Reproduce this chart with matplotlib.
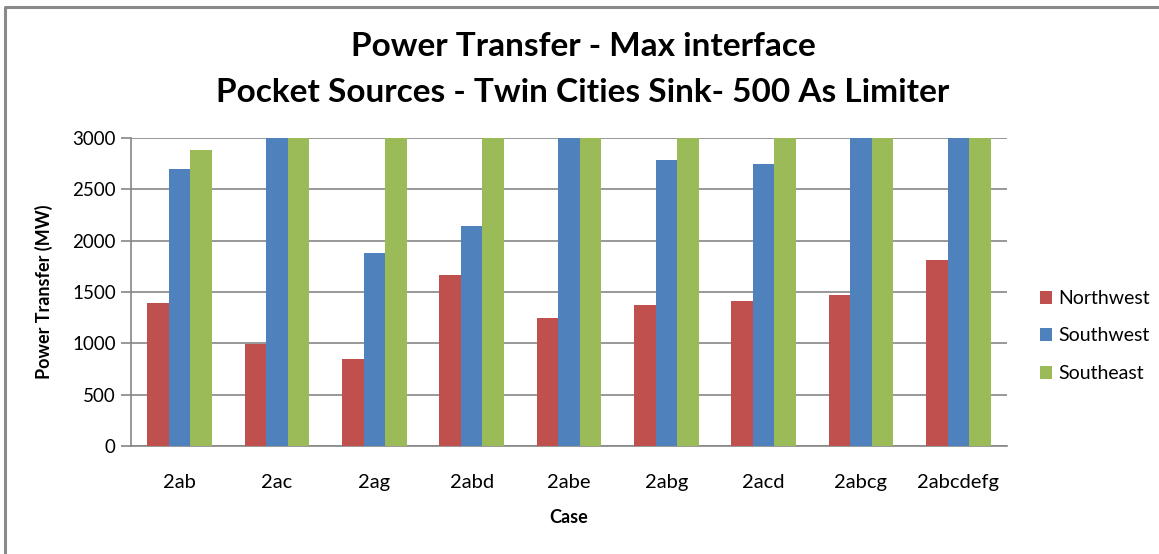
import numpy as np
import matplotlib.pyplot as plt
from matplotlib.lines import Line2D

# Datos
casos = ['2ab', '2ac', '2ag', '2abd', '2abe', '2abg', '2acd', '2abcg', '2abcdefg']
northwest = [1395, 995, 850, 1665, 1250, 1370, 1415, 1475, 1815]
southwest = [2700, 3000, 1880, 2145, 3000, 2790, 2745, 3000, 3000]
southeast = [2885, 3000, 3000, 3000, 3000, 3000, 3000, 3000, 3000]

series = ['Northwest', 'Southwest', 'Southeast']
colores = ['#C0504D', '#4F81BD', '#9BBB59']

plt.rcParams['font.family'] = ['Lato', 'DejaVu Sans']

W, H = 1159, 554
fig = plt.figure(figsize=(W / 100, H / 100), dpi=100)

# borde del área del gráfico (solo arriba e izquierda, el resto queda fuera de la imagen)
y_borde = 1 - 7 / H
x_borde = 4.5 / W
fig.add_artist(Line2D([x_borde, x_borde, 1.05], [-0.05, y_borde, y_borde], transform=fig.transFigure,
                      color='#8a8a8a', linewidth=2.2))

ax = fig.add_axes([131 / W, (H - 446) / H, (1007 - 131) / W, (446 - 138) / H])

x = np.arange(len(casos))
ancho = 1 / 4.5
for i, (nombre, valores) in enumerate(zip(series, [northwest, southwest, southeast])):
    ax.bar(x + (i - 1) * ancho, valores, width=ancho, color=colores[i], label=nombre,
           edgecolor='none', zorder=3)

ax.set_xlim(-0.5, len(casos) - 0.5)
ax.set_ylim(0, 3000)
ax.set_yticks(range(0, 3001, 500))
ax.set_xticks(x)
ax.set_xticklabels(casos)
ax.grid(axis='y', color='#868686', linewidth=1.2, zorder=0)

for lado in ['top', 'right']:
    ax.spines[lado].set_visible(False)
ax.spines['left'].set_color('#868686')
ax.spines['bottom'].set_color('#868686')
ax.spines['left'].set_linewidth(1.2)
ax.spines['bottom'].set_linewidth(1.2)
ax.tick_params(axis='y', length=7, color='#868686', width=1.2, labelsize=13.5, pad=4)
ax.tick_params(axis='x', length=0, labelsize=14.5, pad=20)

ax.set_ylabel('Power Transfer (MW)', fontsize=13, fontweight='bold', labelpad=14)
ax.set_xlabel('Case', fontsize=13, fontweight='bold', labelpad=13)

fig.text(583 / W, 1 - 47 / H, 'Power Transfer - Max interface', ha='center', va='center',
         fontsize=24, fontweight='bold')
fig.text(583 / W, 1 - 92 / H, 'Pocket Sources - Twin Cities Sink- 500 As Limiter', ha='center',
         va='center', fontsize=24, fontweight='bold')

ax.legend(loc='center left', bbox_to_anchor=(1022 / W, 1 - 336 / H), bbox_transform=fig.transFigure,
          frameon=False, fontsize=14, handlelength=0.65, handleheight=0.65, handletextpad=0.3,
          labelspacing=1.05)

fig.savefig('out.png', dpi=100)
